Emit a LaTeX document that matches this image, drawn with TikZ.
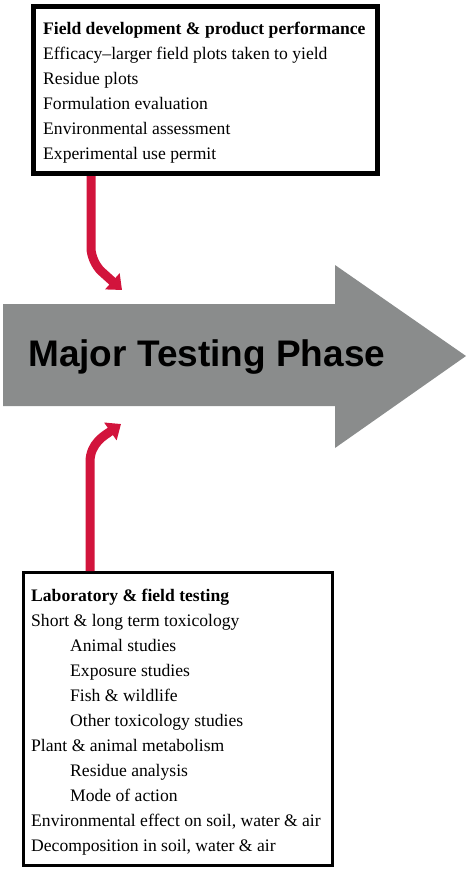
\documentclass[tikz,border=0pt]{standalone}
\usepackage{fontspec}
\setmainfont{Liberation Serif}
\setsansfont{Liberation Sans}
\usetikzlibrary{arrows.meta}
\usetikzlibrary{positioning}

\definecolor{phasegray}{RGB}{138,140,140}
\definecolor{feedred}{RGB}{210,20,60}

\tikzset{
  listbox/.style={draw, fill=white, inner sep=0pt},
  listtext/.style={align=left, anchor=north west, inner sep=0pt, font=\fontsize{17.6}{25}\selectfont},
  feed/.style={draw=feedred, line width=9pt, -{Triangle[length=13pt,width=21pt]}},
}

\begin{document}
\begin{tikzpicture}[x=1pt, y=-1pt]
	\useasboundingbox (0,0) rectangle (466,878);

	% the big arrow
	\fill[phasegray] (3,304) -- (335,304) -- (335,265) -- (466,356)
		-- (335,448) -- (335,406) -- (3,406) -- cycle;
	\node[anchor=base west, inner sep=0pt, font=\sffamily\bfseries\fontsize{37}{40}\selectfont]
		(phase) at (28,366) {Major Testing Phase};

	% upper box
	\node[listbox, line width=5pt, minimum width=344pt, minimum height=167pt] (fieldbox) at (205.5,90) {};
	\node[listtext] (fieldtext) at (43,22) {\textbf{Field development \& product performance}\\
		Efficacy--larger field plots taken to yield\\
		Residue plots\\
		Formulation evaluation\\
		Environmental assessment\\
		Experimental use permit};

	% lower box
	\node[listbox, line width=3pt, minimum width=309pt, minimum height=293pt] (labbox) at (178,719) {};
	\node[listtext] (labtext) at (31,589) {\textbf{Laboratory \& field testing}\\
		Short \& long term toxicology\\
		\hspace*{39pt}Animal studies\\
		\hspace*{39pt}Exposure studies\\
		\hspace*{39pt}Fish \& wildlife\\
		\hspace*{39pt}Other toxicology studies\\
		Plant \& animal metabolism\\
		\hspace*{39pt}Residue analysis\\
		\hspace*{39pt}Mode of action\\
		Environmental effect on soil, water \& air\\
		Decomposition in soil, water \& air};

	% red feeders
	\coordinate (fieldfoot) at (91,176);
	\coordinate (fieldtip) at (122,290);
	\coordinate (labfoot) at (90,571);
	\coordinate (labtip) at (121,424);

	\draw[feed, rounded corners=14pt] (fieldfoot) -- (91,262) -- (fieldtip);
	\draw[feed] (labfoot) -- (90,462) to[out=90, in=-145] (labtip);
\end{tikzpicture}
\end{document}
